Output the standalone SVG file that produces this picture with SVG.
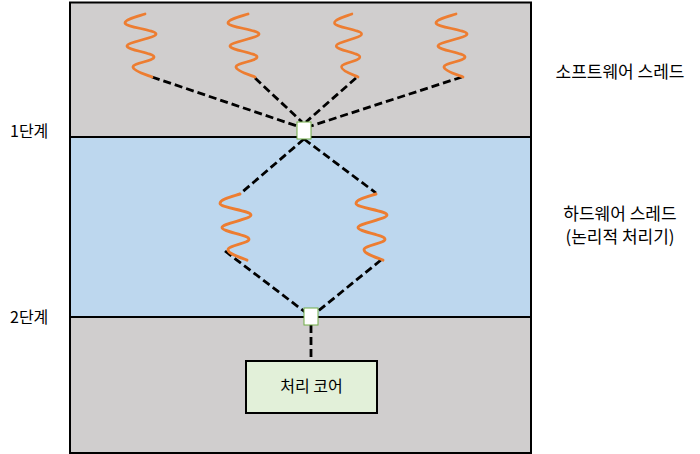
<svg xmlns="http://www.w3.org/2000/svg" xmlns:xlink="http://www.w3.org/1999/xlink" width="700" height="454" viewBox="0 0 700 454">
<style>
.lbl{font-family:"Noto Sans CJK KR","Noto Sans",sans-serif;font-size:16px;fill:#000}
.side{font-size:17px}
.spring{fill:none;stroke:#ed7d31;stroke-width:2.8;stroke-linecap:round}
.dash{fill:none;stroke:#000;stroke-width:2.8;stroke-dasharray:8 4}
.port{fill:#fff;stroke:#70ad47;stroke-width:1}
</style>
<defs>
<path id="sp" d="M0,0 C-6,2 -20,5 -20,9 C-20,13 11,16 11,20 C11,24 -18,28 -18,32 C-18,36 9,39 9,43 C9,47 -12,49 -12,53 C-12,57 2,61 7,63"/>
</defs>
<g id="background">
<rect x="70" y="2.5" width="461" height="135" fill="#d0cece"/>
<rect x="70" y="137" width="461" height="180" fill="#bdd7ee"/>
<rect x="70" y="317" width="461" height="136" fill="#d0cece"/>
<line x1="70" y1="137" x2="531" y2="137" stroke="#000" stroke-width="2"/>
<line x1="70" y1="317" x2="531" y2="317" stroke="#000" stroke-width="2"/>
<rect x="70" y="2.5" width="461" height="450.5" fill="none" stroke="#000" stroke-width="2"/>
</g>
<g id="connectors">
<line class="dash" x1="152" y1="77" x2="297" y2="126"/>
<line class="dash" x1="255" y1="78" x2="302" y2="122"/>
<line class="dash" x1="356" y1="78" x2="306" y2="122"/>
<line class="dash" x1="462" y1="77" x2="311" y2="126"/>
<line class="dash" x1="304" y1="139" x2="240" y2="194"/>
<line class="dash" x1="304" y1="139" x2="376" y2="193"/>
<line class="dash" x1="225" y1="251" x2="305" y2="312"/>
<line class="dash" x1="381" y1="260" x2="317" y2="312"/>
<line class="dash" x1="311" y1="325" x2="311" y2="361"/>
</g>
<g id="sw-thread-1"><use href="#sp" class="spring" transform="translate(145,14)"/></g>
<g id="sw-thread-2"><use href="#sp" class="spring" transform="translate(248,14)"/></g>
<g id="sw-thread-3"><use href="#sp" class="spring" transform="translate(352,14) scale(0.88,1)"/></g>
<g id="sw-thread-4"><use href="#sp" class="spring" transform="translate(456,14)"/></g>
<g id="hw-thread-1"><use href="#sp" class="spring" transform="translate(240,194) scale(1,1.05)"/></g>
<g id="hw-thread-2"><use href="#sp" class="spring" transform="translate(376,194) scale(1,1.05)"/></g>
<g id="stage1"><rect class="port" x="297" y="122" width="14" height="17"/></g>
<g id="stage2"><rect class="port" x="304" y="308" width="14" height="17"/></g>
<g id="core">
<rect x="246" y="361" width="131" height="52" fill="#e2f0d9" stroke="#000" stroke-width="2"/>
<text class="lbl" x="311.5" y="392" text-anchor="middle" style="font-size:16px">처리 코어</text>
</g>
<g id="labels">
<text class="lbl side" x="620" y="78" text-anchor="middle">소프트웨어 스레드</text>
<text class="lbl side" x="620" y="220" text-anchor="middle">하드웨어 스레드</text>
<text class="lbl side" x="620" y="243" text-anchor="middle">(논리적 처리기)</text>
<text class="lbl" x="10" y="137">1단계</text>
<text class="lbl" x="10" y="323">2단계</text>
</g>
</svg>
